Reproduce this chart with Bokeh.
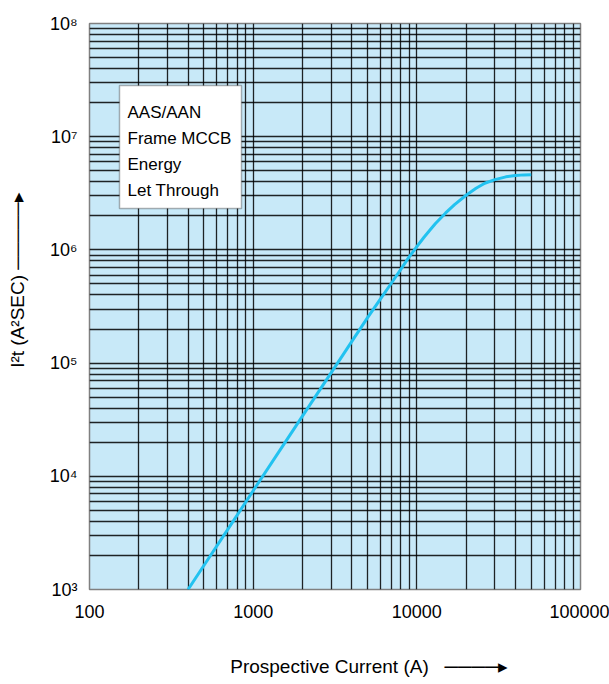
from bokeh.plotting import figure
from bokeh.models import FixedTicker, Label, BoxAnnotation, Range1d
from bokeh.embed import file_html
from bokeh.resources import INLINE

# Data
current = [400, 500, 700, 1000, 1500, 2000, 3000, 4000, 5000, 6000, 7000, 8000, 9000,
           10000, 11000, 12000, 13000, 15000, 17000, 20000, 23000, 26000, 30000, 35000,
           40000, 45000, 50000]
energy = [1000, 1630, 3400, 7450, 18100, 34000, 82400, 155000, 252000, 370000, 510000, 676000, 871000,
          1070000, 1280000, 1490000, 1710000, 2120000, 2510000, 3040000, 3500000, 3880000, 4180000, 4420000,
          4550000, 4600000, 4620000]

x_ticks = [100, 1000, 10000, 100000]
x_tick_labels = ["100", "1000", "10000", "100000"]
y_ticks = [10**3, 10**4, 10**5, 10**6, 10**7, 10**8]
y_tick_labels = ["10³", "10⁴", "10⁵", "10⁶", "10⁷", "10⁸"]
legend_lines = ["AAS/AAN", "Frame MCCB", "Energy", "Let Through"]

x_minor = [m * d for d in [100, 1000, 10000] for m in range(2, 10)]
y_minor = [m * d for d in [10**3, 10**4, 10**5, 10**6, 10**7] for m in range(2, 10)]

FONT = "Liberation Sans"
NB = "\u00a0"

p = figure(width=609, height=684, x_axis_type="log", y_axis_type="log",
           x_range=Range1d(100, 100000), y_range=Range1d(1e3, 1e8),
           output_backend="svg", toolbar_location=None,
           min_border_left=89, min_border_right=29, min_border_top=23, min_border_bottom=95)

p.background_fill_color = "#C8E9F8"
p.border_fill_color = "white"
p.outline_line_color = "#808080"
p.outline_line_width = 1.5

p.xaxis.ticker = FixedTicker(ticks=x_ticks, minor_ticks=x_minor)
p.yaxis.ticker = FixedTicker(ticks=y_ticks, minor_ticks=y_minor)
p.xaxis.major_label_overrides = {t: s for t, s in zip(x_ticks, x_tick_labels)}
p.yaxis.major_label_overrides = {t: s for t, s in zip(y_ticks, y_tick_labels)}

for ax in (p.xaxis, p.yaxis):
    ax.axis_line_color = None
    ax.major_tick_line_color = None
    ax.minor_tick_line_color = None
    ax.major_label_text_font = FONT
    ax.major_label_text_font_size = "18px"
    ax.major_label_text_color = "black"
    ax.axis_label_text_font = FONT
    ax.axis_label_text_font_style = "normal"
    ax.axis_label_text_font_size = "19px"
    ax.axis_label_text_color = "black"

p.xaxis.major_label_standoff = 9
p.yaxis.major_label_standoff = 6
p.xaxis.axis_label = NB * 13 + "Prospective Current (A)" + NB * 2 + " " + "────▸"
p.yaxis.axis_label = NB * 10 + "I²t (A²SEC) " + "─────▸"
p.xaxis.axis_label_standoff = 35
p.yaxis.axis_label_standoff = 19

for g in (p.xgrid, p.ygrid):
    g.grid_line_color = "black"
    g.grid_line_width = 1.3
    g.grid_line_alpha = 0.85
    g.minor_grid_line_color = "black"
    g.minor_grid_line_width = 1.3
    g.minor_grid_line_alpha = 0.85

p.line(current, energy, line_color="#22C2F0", line_width=3, line_join="round")

# legend-like text box
p.add_layout(BoxAnnotation(left=30, right=152, top=504, bottom=381,
                           left_units="screen", right_units="screen",
                           top_units="screen", bottom_units="screen",
                           fill_color="white", fill_alpha=1.0,
                           line_color="black", line_width=1.5))
for i, s in enumerate(legend_lines):
    p.add_layout(Label(x=38, y=477 - 26 * i, x_units="screen", y_units="screen",
                       text=s, text_font=FONT, text_font_size="17px",
                       text_baseline="alphabetic", text_color="black"))

open("out.html", "w").write(file_html(p, INLINE))
